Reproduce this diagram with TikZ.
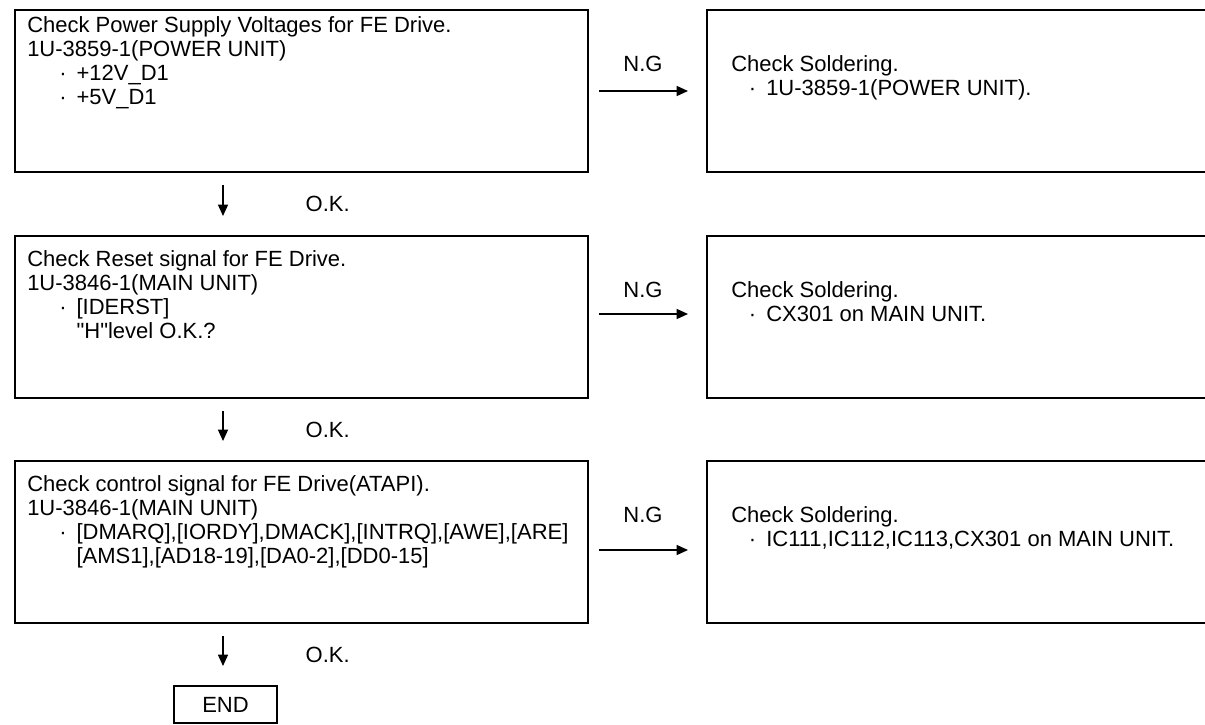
\documentclass[tikz,border=0pt]{standalone}
\usepackage{fontspec}
\setmainfont{Liberation Sans}
\usepackage{tikz}
\usetikzlibrary{positioning,arrows.meta}
\newcommand{\lbul}{\makebox[37pt][r]{·\hspace{7.5pt}}}
\newcommand{\rbul}{\makebox[26.25pt][r]{·\hspace{7.5pt}}}
\newcommand{\lpad}{\hspace*{37pt}}

\begin{document}
\begin{tikzpicture}[x=0.75pt, y=-0.75pt,
  font=\fontsize{16.5pt}{18pt}\selectfont,
  chk/.style={draw, line width=1.5pt, anchor=north west, inner sep=0pt,
              minimum width=429.75pt, minimum height=121.5pt},
  sol/.style={chk, minimum width=450pt},
  txt/.style={anchor=base west, align=left, inner sep=0pt},
  endbox/.style={draw, line width=1.5pt, inner sep=0pt,
                 minimum width=77.25pt, minimum height=27.75pt},
  arr/.style={-{Triangle[length=8.5pt,width=7.5pt]}, line width=1pt},
  ngarr/.style={arr, shorten <=7.5pt, shorten >=13.5pt},
  okarr/.style={arr, shorten <=9pt, shorten >=14.25pt},
  lbl/.style={inner sep=0pt}]
\useasboundingbox (0,0) rectangle (1205,724);
\clip (0,0) rectangle (1205,724);

\node[chk] (chk1) at (14,9) {};
\node[chk] (chk2) at (14,235) {};
\node[chk] (chk3) at (14,460) {};
\node[sol] (sol1) at (706,9) {};
\node[sol] (sol2) at (706,235) {};
\node[sol] (sol3) at (706,460) {};

% base of a multi-line text = baseline of its last line
\node[txt] (chk1t) at (27,104) {Check Power Supply Voltages for FE Drive.\\
  1U-3859-1(POWER UNIT)\\ \lbul+12V\_D1\\ \lbul+5V\_D1};
\node[txt] (chk2t) at (27,338) {Check Reset signal for FE Drive.\\
  1U-3846-1(MAIN UNIT)\\ \lbul[IDERST]\\ \lpad\textquotedbl H\textquotedbl level O.K.?};
\node[txt] (chk3t) at (27,563) {Check control signal for FE Drive(ATAPI).\\
  1U-3846-1(MAIN UNIT)\\ \lbul[DMARQ],[IORDY],DMACK],[INTRQ],[AWE],[ARE]\\
  \lpad[AMS1],[AD18-19],[DA0-2],[DD0-15]};

\node[txt] (sol1t) at (731,95) {Check Soldering.\\ \rbul1U-3859-1(POWER UNIT).};
\node[txt] (sol2t) at (731,321) {Check Soldering.\\ \rbul CX301 on MAIN UNIT.};
\node[txt] (sol3t) at (731,546) {Check Soldering.\\ \rbul IC111,IC112,IC113,CX301 on MAIN UNIT.};

\node[lbl, anchor=base] (ng1) at (643,71) {N.G};
\node[lbl, anchor=base] (ng2) at (643,297) {N.G};
\node[lbl, anchor=base] (ng3) at (643,522) {N.G};

\draw[ngarr] (chk1.east) -- (sol1.west);
\draw[ngarr] ([yshift=2.25pt]chk2.east) -- ([yshift=2.25pt]sol2.west);
\draw[ngarr] ([yshift=-6pt]chk3.east) -- ([yshift=-6pt]sol3.west);

\node[endbox] (fin) at (225.5,704.5) {END};
\coordinate (okx) at (223,0);

\draw[okarr] (chk1.south -| okx) -- node[lbl, midway, right=61.5pt] {O.K.} (chk2.north -| okx);
\draw[okarr] (chk2.south -| okx) -- node[lbl, midway, right=61.5pt] {O.K.} (chk3.north -| okx);
\draw[okarr] (chk3.south -| okx) -- node[lbl, midway, right=61.5pt] {O.K.} (fin.north -| okx);
\end{tikzpicture}
\end{document}
